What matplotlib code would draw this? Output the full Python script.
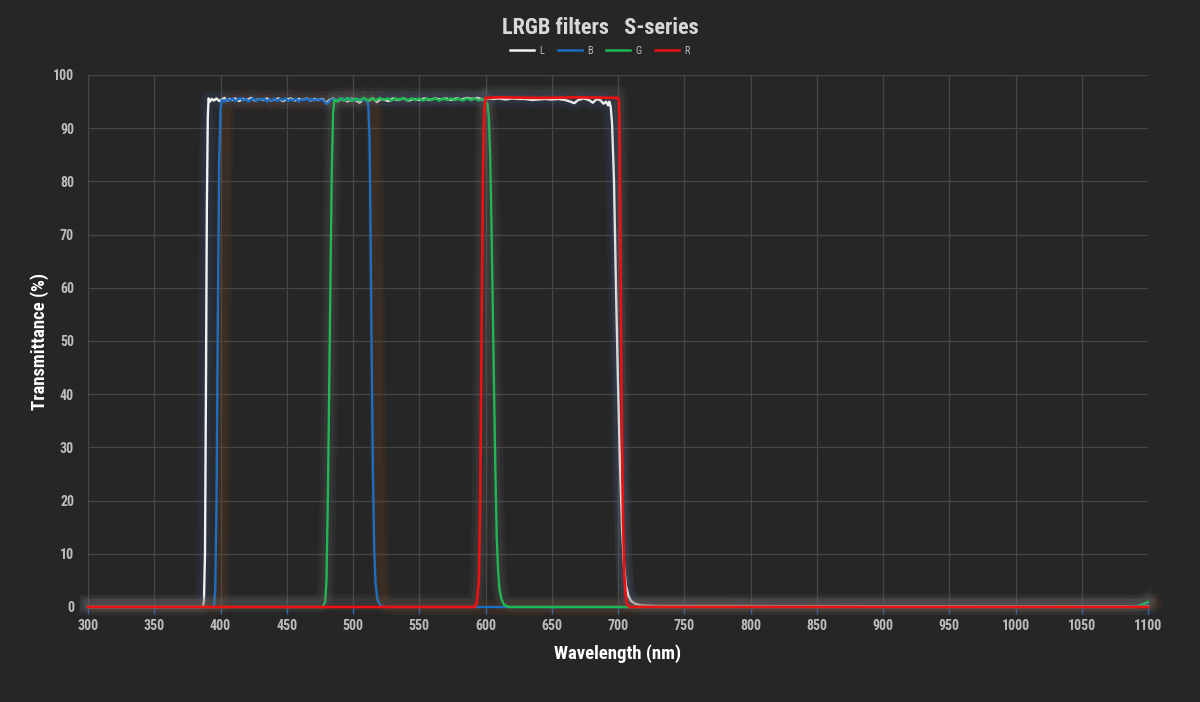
import matplotlib
matplotlib.use("Agg")
import matplotlib.pyplot as plt
import matplotlib.patheffects as pe
from matplotlib import font_manager as fm

# ---------------- data ----------------
L_x = [300, 386.5, 387.5, 388.3, 389.0, 389.7, 390.4, 391.0, 392.0, 393.5, 395, 397, 399, 401, 403, 405, 407, 409,
       411, 414, 417, 420, 423, 426, 429, 432, 435, 438, 441, 444, 447, 450, 453, 456, 459, 462, 465, 468, 471,
       474, 477, 480, 482, 485, 489, 492, 496, 499, 502, 505, 508, 512, 515, 518, 521, 524, 527, 530, 534, 538,
       542, 546, 550, 554, 558, 562, 566, 570, 574, 578, 582, 586, 590, 594, 598, 602, 606, 610, 615, 620, 625,
       630, 635, 640, 645, 650, 655, 660, 664, 667, 670, 674, 678, 681, 684, 687, 689, 691, 692.5, 693.5, 694.5,
       695.5, 697, 698.5, 700, 701.5, 703, 704.5, 706, 708, 710, 713, 718, 730, 1100]
L_y = [0.0, 0.0, 1.0, 10, 40, 75, 92, 95.6, 95.0, 95.5, 95.2, 95.6, 95.1, 95.4, 95.7, 95.2, 95.5, 95.3,
       95.6, 95.1, 95.5, 95.3, 95.7, 95.2, 95.5, 95.3, 95.6, 95.2, 95.4, 95.6, 95.1, 95.4, 95.6, 95.2, 95.5, 95.3, 95.6, 95.2, 95.5,
       95.3, 95.5, 94.7, 95.3, 95.6, 95.1, 95.6, 95.0, 95.6, 95.2, 94.8, 95.5, 95.2, 95.6, 94.9, 95.5, 95.3, 95.1, 95.6, 95.3, 95.6,
       95.2, 95.5, 95.3, 95.6, 95.3, 95.6, 95.4, 95.6, 95.3, 95.6, 95.4, 95.7, 95.5, 95.7, 95.4, 95.6, 95.5, 95.6, 95.4, 95.6, 95.5,
       95.5, 95.3, 95.4, 95.5, 95.4, 95.5, 95.3, 95.0, 94.7, 95.3, 95.6, 95.3, 94.8, 95.5, 95.2, 94.6, 95.0, 94.3, 95.0, 94.0,
       91, 80, 60, 42, 27, 15, 8, 4, 2, 1.1, 0.6, 0.3, 0.2, 0.1]

B_x = [300, 395, 396, 397, 398, 399, 400, 401, 403, 405, 407, 409, 411, 413, 415, 417, 419, 421, 423, 425, 427,
       429, 431, 433, 435, 437, 439, 441, 443, 445, 447, 449, 451, 453, 455, 457, 459, 461, 463, 465, 467, 469,
       471, 473, 475, 477, 479, 481, 483, 486, 489, 492, 495, 498, 501, 504, 507, 510, 511.5, 512.5, 513.2, 514,
       515, 516, 517, 518.5, 521, 525, 1085, 1092, 1100]
B_y = [0, 0, 3, 20, 55, 84, 93.5, 95.3, 95.0, 95.5, 95.2, 95.6, 95.1, 95.4, 95.7, 95.2, 95.5, 95.0, 95.4, 95.6, 95.1,
       95.5, 95.3, 95.6, 95.0, 95.4, 95.2, 95.6, 95.1, 95.5, 95.3, 95.6, 95.1, 95.4, 95.2, 95.6, 95.0, 95.4, 95.3, 95.6, 95.1, 95.5,
       95.2, 95.5, 95.3, 95.4, 94.8, 94.6, 95.3, 95.5, 95.2, 95.6, 95.3, 95.5, 95.2, 95.5, 95.3, 95.4, 94.5, 88, 72, 50,
       26, 11, 4.5, 1.3, 0.2, 0, 0, 0.3, 0.7]

G_x = [300, 477, 479, 480, 481, 482, 483, 484, 485, 486, 488, 490, 493, 496, 499, 502, 505, 508, 511, 514, 517,
       520, 523, 526, 529, 532, 535, 538, 541, 544, 547, 550, 553, 556, 559, 562, 565, 568, 571, 574, 577, 580,
       583, 586, 589, 592, 595, 598, 600, 601.5, 602.5, 603.5, 604.5, 605.5, 606.5, 607.5, 608.5, 609.5, 610.5,
       612, 614, 618, 1090, 1095, 1100]
G_y = [0, 0, 1, 5, 20, 40, 62, 82, 93, 95.4, 95.0, 95.6, 95.2, 95.7, 95.1, 95.6, 95.2, 95.7, 95.2, 95.6, 95.2,
       95.7, 95.3, 95.6, 95.2, 95.6, 95.3, 95.7, 95.2, 95.6, 95.3, 95.6, 95.2, 95.6, 95.3, 95.6, 95.2, 95.6, 95.3, 95.6, 95.3, 95.6,
       95.2, 95.6, 95.3, 95.6, 95.2, 95.5, 95.0, 94.6, 92, 85, 72, 56, 40, 25, 13, 7, 3.5,
       1.5, 0.4, 0, 0, 0.4, 1.0]

R_x = [300, 592, 593.5, 595, 596, 597, 598, 599, 600, 610, 640, 670, 700, 700.8, 701.3, 701.8, 702.4, 703,
       703.8, 704.8, 705.8, 707, 709, 1100]
R_y = [0, 0, 1, 5, 20, 50, 80, 93, 95.7, 95.8, 95.7, 95.8, 95.7, 95, 88, 70, 50, 32,
       16, 6, 2, 0.4, 0, 0]

series_names = ["L", "B", "G", "R"]
x_ticks = list(range(300, 1101, 50))
y_ticks = list(range(0, 101, 10))

# ---------------- font choice: prefer a condensed sans ----------------
avail = {(f.name, f.stretch) for f in fm.fontManager.ttflist}
names = {n for n, _ in avail}
FONT = 'Roboto'
STRETCH = 'normal'
condensed = False
for cand in ['Roboto Condensed', 'Open Sans Condensed', 'Liberation Sans Narrow']:
    if cand in names:
        FONT = cand
        condensed = True
        break
if not condensed:
    for n, s in avail:
        if n == 'DejaVu Sans' and s in ('condensed', 'semi-condensed'):
            FONT = 'DejaVu Sans'
            STRETCH = 'condensed'
            condensed = True
            break
plt.rcParams['font.family'] = [FONT, 'DejaVu Sans']
plt.rcParams['font.stretch'] = STRETCH

if condensed:
    fs_tick, fs_lab, fs_title, fs_leg = 10, 13.5, 16, 7.5
else:
    fs_tick, fs_lab, fs_title, fs_leg = 8.5, 12, 14.5, 7

# ---------------- styling ----------------
BG = "#262626"
GRID = "#464646"
TXT = "#bdbdbd"

fig = plt.figure(figsize=(12, 7.02), dpi=100, facecolor=BG)
ax = fig.add_axes([88/1200, 95/702, 1060/1200, 532/702])
ax.set_facecolor(BG)

colors = {"L": "#f2f2f2", "B": "#1a6fc4", "G": "#1db954", "R": "#ee1111"}
glow = {"L": ("#3d5f95", (0, 0)), "B": ("#8a4a1c", (4, 0)), "G": ("#707070", (0, 2)), "R": ("#707070", (0, 3))}
data = {"L": (L_x, L_y), "B": (B_x, B_y), "G": (G_x, G_y), "R": (R_x, R_y)}
lw = {"L": 1.7, "B": 1.7, "G": 1.7, "R": 1.9}

for i, name in enumerate(series_names):
    xs, ys = data[name]
    gc, off = glow[name]
    effects = [
        pe.SimpleLineShadow(offset=off, shadow_color=gc, alpha=0.10, rho=1.0, linewidth=12),
        pe.SimpleLineShadow(offset=off, shadow_color=gc, alpha=0.12, rho=1.0, linewidth=7),
        pe.Normal(),
    ]
    ax.plot(xs, ys, color=colors[name], lw=lw[name], label=name, zorder=3 + i,
            clip_on=False, path_effects=effects, solid_joinstyle='round')

ax.set_xlim(300, 1100)
ax.set_ylim(0, 100)
ax.set_xticks(x_ticks)
ax.set_yticks(y_ticks)
ax.grid(True, color=GRID, lw=0.9, zorder=0)
ax.set_axisbelow(True)
for s in ["top", "right"]:
    ax.spines[s].set_visible(False)
ax.spines["left"].set_color(GRID)
ax.spines["bottom"].set_color(GRID)

ax.tick_params(axis='x', colors=TXT, length=5, width=1, color="#2a6db0", pad=4, labelsize=fs_tick)
ax.tick_params(axis='y', colors=TXT, length=0, pad=10, labelsize=fs_tick)
for lab in ax.get_xticklabels() + ax.get_yticklabels():
    lab.set_fontweight('bold')

ax.set_xlabel("Wavelength (nm)", color="white", fontsize=fs_lab, fontweight='bold')
ax.set_ylabel("Transmittance (%)", color="white", fontsize=fs_lab, fontweight='bold')
ax.yaxis.set_label_coords(-48/1060, 0.5)
ax.xaxis.set_label_coords(0.5, -(654 - 607)/532)
ax.xaxis.label.set_va('center')
ax.yaxis.label.set_va('center')

fig.text(0.5, 1 - 28/702, "LRGB filters   S-series", ha='center', va='center',
         color="#d8d8d8", fontsize=fs_title, fontweight='bold')

leg = fig.legend(loc='center', bbox_to_anchor=(0.5, 1 - 51/702), ncol=4, frameon=False,
                 fontsize=fs_leg, labelcolor=TXT, handlelength=2.3, handletextpad=0.5,
                 columnspacing=1.3)
for h in leg.legend_handles:
    h.set_path_effects([])
    h.set_linewidth(1.8)

fig.savefig("out.png", dpi=100, facecolor=BG)
